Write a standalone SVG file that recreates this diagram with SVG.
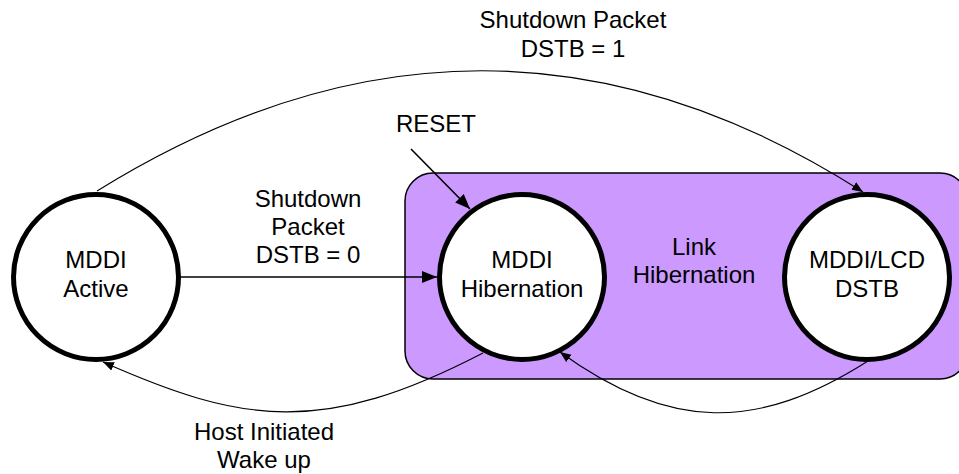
<svg xmlns="http://www.w3.org/2000/svg" width="959" height="474" viewBox="0 0 959 474">
<defs>
<style>
text{font-family:"Liberation Sans",Arial,sans-serif;font-size:24px;fill:#000;text-anchor:middle}
.state{fill:#fff;stroke:#000;stroke-width:5}
.conn{fill:none;stroke:#000}
.thick{stroke-width:1.6}
.thin{stroke-width:1.1}
</style>
<marker id="ah" markerUnits="userSpaceOnUse" markerWidth="16" markerHeight="12" refX="15" refY="6" orient="auto">
<path d="M0,0 L15,6 L0,12 Z" fill="#000"/>
</marker>
<marker id="ahs" markerUnits="userSpaceOnUse" markerWidth="12" markerHeight="10" refX="11" refY="4.5" orient="auto">
<path d="M0,0 L11,4.5 L0,9 Z" fill="#000"/>
</marker>
</defs>
<g id="link-hibernation">
<rect x="405" y="173" width="563" height="206" rx="28" ry="28" fill="#CC99FF" stroke="#000" stroke-width="1.5"/>
<text x="694" y="255">Link</text>
<text x="694" y="283">Hibernation</text>
</g>
<g id="connectors">
<path class="conn thin" d="M97,191 Q485,-50 863,192" marker-end="url(#ahs)"/>
<line class="conn thick" x1="180" y1="277" x2="437" y2="277" marker-end="url(#ah)"/>
<line class="conn thick" x1="411" y1="149" x2="470" y2="209" marker-end="url(#ah)"/>
<path class="conn thin" d="M483,353 C323,436 243,424 103,362" marker-end="url(#ahs)"/>
<path class="conn thin" d="M868,361 C758,431 670,432 560,352" marker-end="url(#ahs)"/>
</g>
<g id="mddi-active">
<circle class="state" cx="96" cy="277" r="82.5"/>
<text x="96" y="268">MDDI</text>
<text x="96" y="297">Active</text>
</g>
<g id="mddi-hibernation">
<circle class="state" cx="522" cy="277" r="82.5"/>
<text x="522" y="268">MDDI</text>
<text x="522" y="297">Hibernation</text>
</g>
<g id="mddi-lcd-dstb">
<circle class="state" cx="867" cy="277" r="82.5"/>
<text x="867" y="268">MDDI/LCD</text>
<text x="867" y="297">DSTB</text>
</g>
<g id="labels">
<text x="573" y="28">Shutdown Packet</text>
<text x="573" y="57">DSTB = 1</text>
<text x="436" y="132">RESET</text>
<text x="308" y="207">Shutdown</text>
<text x="308" y="235">Packet</text>
<text x="308" y="263">DSTB = 0</text>
<text x="264" y="440">Host Initiated</text>
<text x="264" y="468">Wake up</text>
</g>
</svg>
